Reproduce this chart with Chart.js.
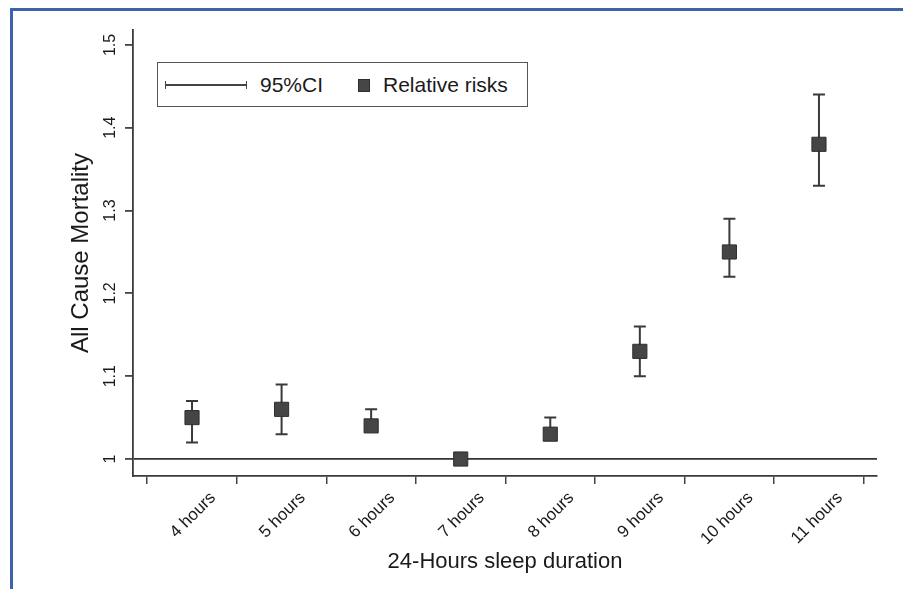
<!DOCTYPE html>
<html>
<head>
<meta charset="utf-8">
<script src="https://cdn.jsdelivr.net/npm/chart.js@4.4.1/dist/chart.umd.min.js"></script>
<style>
  html, body { margin: 0; padding: 0; background: #fff; }
  #wrap { position: relative; width: 903px; height: 589px; overflow: hidden; }
  #frame { position: absolute; left: 10px; top: 8px; right: 0; bottom: 0;
           border-left: 3px solid #3d61ad; border-top: 3px solid #3d61ad; pointer-events: none; }
  #chart { position: absolute; left: 0; top: 0; }
  #legend { position: absolute; left: 157px; top: 62px; width: 369px; height: 43px;
            border: 1.5px solid #555; background: #fff;
            font-family: "Liberation Sans", Arial, sans-serif; font-size: 21px; color: #1a1a1a; }
  #legend span { position: absolute; }
  .ci { left: 7px; top: 18px; width: 80px; height: 8px;
        border-left: 1.5px solid #444; border-right: 1.5px solid #444; }
  .ci::after { content: ''; position: absolute; left: 0; right: 0; top: 3px; border-top: 2px solid #444; }
  .sq { left: 200px; top: 16px; width: 10px; height: 11px; background: #454545; border: 1px solid #2e2e2e; }
  .txt { top: 10px; line-height: 24px; white-space: nowrap; }
</style>
</head>
<body>
<div id="wrap">
  <canvas id="chart" width="903" height="589"></canvas>
  <div id="frame"></div>
  <div id="legend"></div>
</div>
<script>
const hours = [4, 5, 6, 7, 8, 9, 10, 11];
const categories = ['4 hours', '5 hours', '6 hours', '7 hours', '8 hours', '9 hours', '10 hours', '11 hours'];
const relativeRisk = [1.05, 1.06, 1.04, 1.00, 1.03, 1.13, 1.25, 1.38];
const ciLower = [1.02, 1.03, 1.035, 1.00, 1.025, 1.10, 1.22, 1.33];
const ciUpper = [1.07, 1.09, 1.06, 1.00, 1.05, 1.16, 1.29, 1.44];
const yTicks = [1, 1.1, 1.2, 1.3, 1.4, 1.5];
const xTickMarks = [3.5, 4.5, 5.5, 6.5, 7.5, 8.5, 9.5, 10.5, 11.5];
const ciLabel = '95%CI';

Chart.defaults.font.family = '"Liberation Sans", Arial, sans-serif';
Chart.defaults.color = '#1a1a1a';

const errorBars = {
    id: 'errorBars',
    beforeDatasetsDraw(chart) {
        const ctx = chart.ctx;
        const x = chart.scales.x, y = chart.scales.y;
        ctx.save();
        ctx.strokeStyle = '#3a3a3a';
        ctx.lineWidth = 2;
        hours.forEach((h, i) => {
            if (ciLower[i] === ciUpper[i]) return;
            const px = x.getPixelForValue(h);
            const lo = y.getPixelForValue(ciLower[i]);
            const hi = y.getPixelForValue(ciUpper[i]);
            ctx.beginPath();
            ctx.moveTo(px, lo); ctx.lineTo(px, hi);
            ctx.moveTo(px - 6, lo); ctx.lineTo(px + 6, lo);
            ctx.moveTo(px - 6, hi); ctx.lineTo(px + 6, hi);
            ctx.stroke();
        });
        ctx.restore();
    }
};

const chart = new Chart(document.getElementById('chart'), {
    type: 'scatter',
    data: {
        datasets: [{
            label: 'Relative risks',
            data: hours.map((h, i) => ({x: h, y: relativeRisk[i]})),
            pointStyle: 'rect',
            pointRadius: 10,
            pointHoverRadius: 10,
            backgroundColor: '#454545',
            borderColor: '#2e2e2e',
            borderWidth: 1
        }]
    },
    options: {
        responsive: false,
        animation: false,
        events: [],
        layout: {
            autoPadding: false,
            padding: {left: 67, top: 30, right: 26, bottom: 14}
        },
        plugins: {
            legend: {display: false},
            tooltip: {enabled: false}
        },
        scales: {
            x: {
                type: 'linear',
                min: 3.341,
                max: 11.648,
                afterBuildTicks: (s) => {
                    s.ticks = xTickMarks.concat(hours).sort((a, b) => a - b).map(v => ({value: v}));
                },
                afterFit: (s) => { s.height = 99; },
                border: {display: true, color: '#3a3a3a', width: 1.8},
                grid: {
                    drawOnChartArea: false,
                    tickLength: 8,
                    lineWidth: 1.5,
                    tickColor: (c) => (c.tick && hours.includes(c.tick.value)) ? 'rgba(0,0,0,0)' : '#444'
                },
                ticks: {
                    autoSkip: false,
                    minRotation: 45,
                    maxRotation: 45,
                    padding: 4,
                    labelOffset: 21,
                    font: {size: 17},
                    callback: (v) => {
                        const i = hours.indexOf(v);
                        return i >= 0 ? categories[i] : '';
                    }
                },
                title: {
                    display: true,
                    text: '24-Hours sleep duration',
                    font: {size: 22},
                    padding: 0
                }
            },
            y: {
                min: 0.9795,
                max: 1.518,
                afterBuildTicks: (s) => { s.ticks = yTicks.map(v => ({value: v})); },
                afterFit: (s) => { s.width = 66; },
                border: {display: true, color: '#3a3a3a', width: 1.8},
                grid: {
                    tickLength: 8,
                    lineWidth: 1.8,
                    color: (c) => (c.tick && c.tick.value === 1) ? '#333' : 'rgba(0,0,0,0)',
                    tickColor: '#444'
                },
                ticks: {
                    minRotation: 90,
                    maxRotation: 90,
                    crossAlign: 'center',
                    padding: 3,
                    font: {size: 16},
                    callback: (v) => String(v)
                },
                title: {
                    display: true,
                    text: 'All Cause Mortality',
                    font: {size: 24},
                    padding: 0
                }
            }
        }
    },
    plugins: [errorBars]
});

// legend box drawn over the plot area, as in the original figure
const legend = document.getElementById('legend');
legend.innerHTML =
    '<span class="ci"></span>' +
    '<span class="txt" style="left:102px">' + ciLabel + '</span>' +
    '<span class="sq"></span>' +
    '<span class="txt" style="left:225px">' + chart.data.datasets[0].label + '</span>';
</script>
</body>
</html>
